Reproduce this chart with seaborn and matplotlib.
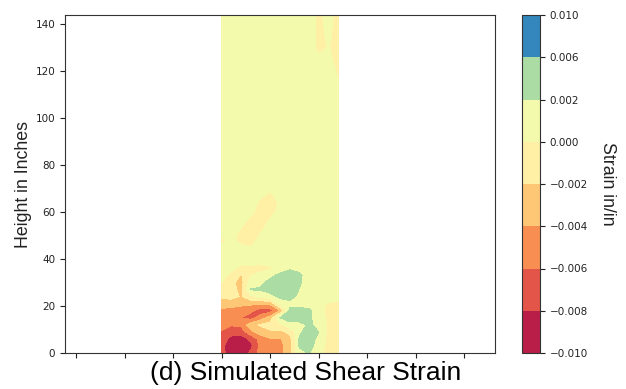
import numpy as np
import pandas as pd
import matplotlib
matplotlib.use("Agg")
import matplotlib.pyplot as plt
import seaborn as sns

# ---- data (strain values in units of 1e-3 in/in) ----
x_in = [0, 4, 8, 12, 16, 20, 24, 28, 32, 36, 40, 44, 48]
y_in = [0, 3, 6, 9, 12, 15, 18, 21, 24, 27, 30, 33, 36, 40, 44, 48, 52, 56,
        60, 64, 68, 72, 80, 100, 112, 118, 124, 130, 136, 144]
strain_milli = [
    [-7.2, -9.3, -9.9, -7.5, -5.2, -4.6, -4.6, -3.0, 1.2, 2.2, 0.5, -0.5, -1.0],   # 0
    [-7.5, -9.5, -9.9, -8.5, -5.5, -4.5, -4.5, -3.2, 2.3, 3.0, 0.8, -0.5, -1.0],   # 3
    [-7.0, -8.6, -8.9, -7.6, -5.2, -4.2, -4.2, -2.8, 2.2, 3.5, 1.2, -0.5, -1.0],   # 6
    [-6.2, -7.2, -7.2, -4.5, -3.0, -2.2, -2.5, -1.5, 1.5, 3.2, 2.0, -0.5, -1.0],   # 9
    [-5.0, -5.8, -5.5, -2.8, -1.8, -1.4, -0.6, 1.2, 1.2, 2.3, 1.5, -0.4, -0.9],    # 12
    [-5.0, -5.2, -6.0, -6.9, -5.0, -3.0, 2.0, 3.0, 3.2, 2.4, 1.0, -0.4, -0.8],     # 15
    [-4.3, -4.5, -4.8, -5.6, -7.0, -6.9, -4.0, 2.4, 2.8, 2.5, 0.5, -0.4, -0.7],    # 18
    [-3.4, -3.4, -3.6, -3.6, -3.8, -3.6, 0.8, 1.5, 1.0, 1.0, 0.6, -0.2, -0.3],     # 21
    [-1.5, -1.2, -2.2, -0.5, 0.5, 1.2, 2.4, 2.6, 1.6, 1.0, 1.0, 0.8, 0.8],         # 24
    [-0.5, -1.2, -2.6, 2.1, 2.2, 2.8, 3.8, 4.0, 1.9, 1.0, 1.0, 1.0, 1.0],          # 27
    [0.0, -1.5, -2.8, 1.0, 1.6, 2.6, 4.0, 4.2, 2.3, 1.0, 1.0, 1.0, 1.0],           # 30
    [0.5, -0.5, -2.2, 0.0, 0.8, 1.5, 2.6, 3.8, 2.4, 1.0, 1.0, 1.0, 1.0],           # 33
    [1.0, 0.4, -0.5, -0.4, -0.8, -0.3, 0.8, 1.6, 1.5, 1.0, 1.0, 1.0, 1.0],         # 36
    [1.0, 1.0, 0.8, 1.0, 1.0, 1.0, 1.0, 1.0, 1.0, 1.0, 1.0, 1.0, 1.0],             # 40
    [0.6, 1.0, 0.8, 0.3, 0.8, 1.0, 1.0, 1.0, 1.0, 1.0, 1.0, 1.0, 1.0],             # 44
    [-0.3, 0.4, -0.6, -0.8, 0.6, 1.0, 1.0, 1.0, 1.0, 1.0, 1.0, 1.0, 1.0],          # 48
    [1.0, 1.0, -0.3, -1.0, -0.2, 0.8, 1.0, 1.0, 1.0, 1.0, 1.0, 1.0, 1.0],          # 52
    [1.0, 1.0, 0.8, -0.8, -1.0, 0.3, 1.0, 1.0, 1.0, 1.0, 1.0, 1.0, 1.0],           # 56
    [1.0, 1.0, 1.0, 0.5, -1.0, -0.6, 0.6, 1.0, 1.0, 1.0, 1.0, 1.0, 1.0],           # 60
    [1.0, 1.0, 1.0, 1.0, -0.4, -0.8, 0.2, 1.0, 1.0, 1.0, 1.0, 1.0, 1.0],           # 64
    [1.0, 1.0, 1.0, 1.0, 0.6, -0.2, 0.8, 1.0, 1.0, 1.0, 1.0, 1.0, 1.0],            # 68
    [1.0, 1.0, 1.0, 1.0, 1.0, 1.0, 1.0, 1.0, 1.0, 1.0, 1.0, 1.0, 1.0],             # 72
    [1.0, 1.0, 1.0, 1.0, 1.0, 1.0, 1.0, 1.0, 1.0, 1.0, 1.0, 1.0, 1.0],             # 80
    [1.0, 1.0, 1.0, 1.0, 1.0, 1.0, 1.0, 1.0, 1.0, 1.0, 1.0, 1.0, 1.0],             # 100
    [1.0, 1.0, 1.0, 1.0, 1.0, 1.0, 1.0, 1.0, 1.0, 1.0, 1.0, 1.0, 0.5],             # 112
    [1.0, 1.0, 1.0, 1.0, 1.0, 1.0, 1.0, 1.0, 1.0, 1.0, 1.0, 1.0, -0.1],            # 118
    [1.0, 1.0, 1.0, 1.0, 1.0, 1.0, 1.0, 1.0, 1.0, 1.0, 0.8, 0.5, -0.5],            # 124
    [1.0, 1.0, 1.0, 1.0, 1.0, 1.0, 1.0, 1.0, 1.0, 1.0, -0.6, 0.1, -0.6],           # 130
    [1.0, 1.0, 1.0, 1.0, 1.0, 1.0, 1.0, 1.0, 1.0, 1.0, -0.5, 0.3, -0.6],           # 136
    [1.0, 1.0, 1.0, 1.0, 1.0, 1.0, 1.0, 1.0, 1.0, 1.0, -0.4, 0.6, -0.6],           # 144
]
levels = [-0.010, -0.008, -0.006, -0.004, -0.002, 0.000, 0.002, 0.006, 0.010]
cbar_labels = ["\u22120.010", "\u22120.008", "\u22120.006", "\u22120.004",
               "\u22120.002", "0.000", "0.002", "0.006", "0.010"]
yticks = [0, 20, 40, 60, 80, 100, 120, 140]
xticks = [-60, -40, -20, 0, 20, 40, 60, 80, 100]

# ---- figure ----
sns.set_theme(style="ticks", rc={
    "axes.edgecolor": "black", "xtick.color": "black", "ytick.color": "black",
    "axes.linewidth": 0.8, "xtick.major.width": 0.8, "ytick.major.width": 0.8,
    "xtick.major.size": 3.5, "ytick.major.size": 3.5,
})
plt.rcParams["font.family"] = ["DejaVu Sans"]

df = pd.DataFrame(strain_milli, index=y_in, columns=x_in) * 1e-3
X, Y = np.meshgrid(df.columns.values, df.index.values)

fig = plt.figure(figsize=(6.26, 3.89), dpi=100)
ax = fig.add_axes([65 / 626, 36 / 389, 430 / 626, 338 / 389])
cax = fig.add_axes([522 / 626, 36 / 389, 18 / 626, 338 / 389])

cmap = sns.color_palette("Spectral", as_cmap=True)
cs = ax.contourf(X, Y, df.values, levels=levels, cmap=cmap,
                 vmin=levels[0], vmax=levels[-1])

ax.set_xlim(-64.6, 112.7)
ax.set_ylim(0, 144)
ax.set_xticks(xticks)
ax.set_xticklabels([])
ax.set_yticks(yticks)
ax.tick_params(axis="y", labelsize=7.5, colors="#222222")
ax.tick_params(axis="x", colors="#222222")
for s in ax.spines.values():
    s.set_color("#333333")

ax.set_ylabel("Height in Inches", fontsize=12.8, family=["Liberation Sans"],
              color="#222222")
ax.yaxis.set_label_coords(-0.077, 0.5)

cbar = fig.colorbar(cs, cax=cax, ticks=levels)
cbar.ax.set_yticklabels(cbar_labels)
cbar.ax.tick_params(labelsize=7.5, colors="#222222")
cbar.outline.set_edgecolor("#333333")
cbar.set_label("Strain in/in", rotation=270, fontsize=12.8,
               family=["Liberation Sans"], color="#222222", va="bottom")
cbar.ax.yaxis.set_label_coords(4.3, 0.5)

fig.text(306 / 626, 0.040, "(d) Simulated Shear Strain", ha="center",
         va="center", fontsize=19, family=["Liberation Sans"], color="black")

fig.savefig("out.png", dpi=100)
